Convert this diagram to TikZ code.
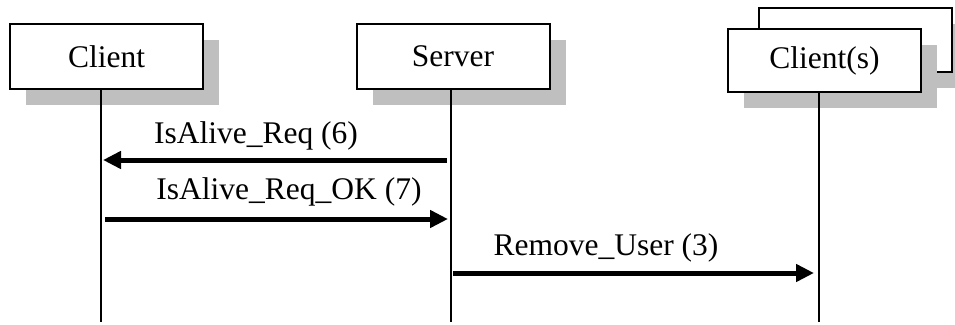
\documentclass[tikz,border=0pt]{standalone}
\usepackage{fontspec}
\setmainfont{Liberation Serif}
\usetikzlibrary{arrows.meta,positioning,calc,shadows}
\tikzset{
  actor/.style={draw, line width=2pt, fill=white, minimum width=193pt, minimum height=65pt, inner sep=0pt, font=\fontsize{31.5}{36}\selectfont, drop shadow={shadow xshift=16pt, shadow yshift=-16pt, fill=gray!50, opacity=1}},
  lifeline/.style={line width=1.5pt},
  msg/.style={-{Triangle[length=18pt,width=17pt]}, line width=5pt},
  msglabel/.style={font=\fontsize{31.5}{36}\selectfont, anchor=base}
}
\begin{document}
\begin{tikzpicture}[x=1pt,y=1pt]
  \useasboundingbox (0,0) rectangle (955,-324);
  \node[actor] (client) at (106.5,-56.5) {Client};
  \node[actor] (server) at (453,-56.5) {Server};
  \node[actor, minimum height=64pt] (backclients) at (855,-40) {};
  \node[actor, minimum height=63pt] (clients) at (824.5,-60.5) {Client(s)};
  \draw[lifeline] ([xshift=-5.5pt]client.south) coordinate (clTop) -- (clTop |- 0,-322);
  \draw[lifeline] ([xshift=-2pt]server.south) coordinate (svTop) -- (svTop |- 0,-322);
  \draw[lifeline] ([xshift=-5.5pt]clients.south) coordinate (csTop) -- (csTop |- 0,-322);
  \draw[msg, shorten <=4pt, shorten >=2pt] (svTop |- 0,-160) -- (clTop |- 0,-160);
  \node[msglabel] (isalive) at (256,-143) {IsAlive\_Req (6)};
  \draw[msg, shorten <=4pt, shorten >=3pt] (clTop |- 0,-219) -- (svTop |- 0,-219);
  \node[msglabel] (isaliveok) at (289,-199) {IsAlive\_Req\_OK (7)};
  \draw[msg, shorten <=2pt, shorten >=5pt] (svTop |- 0,-273) -- (csTop |- 0,-273);
  \node[msglabel] (remove) at (606,-255) {Remove\_User (3)};
\end{tikzpicture}
\end{document}
